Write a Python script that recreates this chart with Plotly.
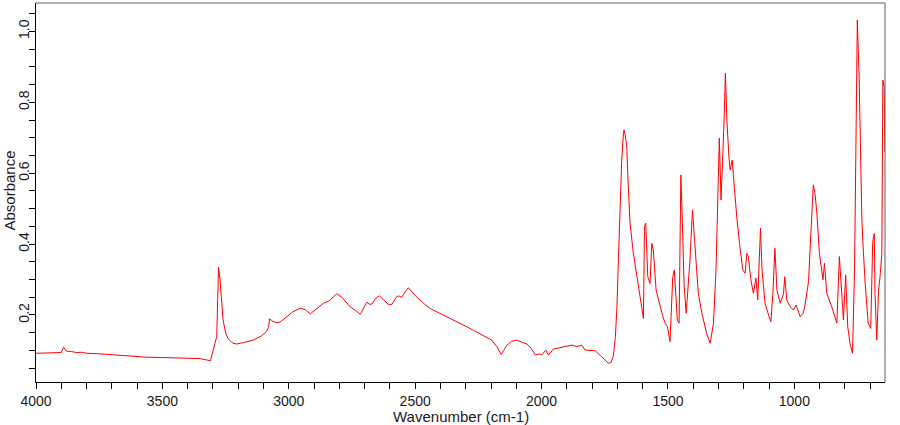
import plotly.graph_objects as go

wavenumber = [4000, 3950, 3900, 3891, 3880, 3860, 3840, 3820, 3800, 3760, 3720, 3680, 3640, 3600,
              3564, 3500, 3450, 3406, 3350, 3310, 3300, 3290, 3285, 3278, 3272, 3267, 3260, 3250,
              3241, 3225, 3208, 3180, 3142, 3110, 3089, 3080, 3076, 3065, 3050, 3034, 3010, 2984,
              2955, 2935, 2915, 2890, 2863, 2840, 2810, 2790, 2757, 2735, 2717, 2700, 2691, 2680,
              2671, 2655, 2641, 2625, 2606, 2592, 2575, 2566, 2553, 2540, 2527, 2500, 2467, 2440,
              2414, 2375, 2349, 2320, 2296, 2270, 2243, 2220, 2197, 2177, 2160, 2150, 2137, 2118,
              2098, 2080, 2058, 2040, 2025, 2010, 1999, 1983, 1973, 1953, 1930, 1900, 1880, 1861,
              1841, 1828, 1810, 1788, 1762, 1745, 1736, 1725, 1716, 1708, 1702, 1696, 1689, 1683,
              1676, 1674, 1670, 1663, 1657, 1650, 1637, 1617, 1604, 1597, 1593, 1588, 1580, 1571,
              1564, 1558, 1547, 1531, 1520, 1511, 1502, 1492, 1481, 1475, 1469, 1463, 1456, 1449,
              1443, 1436, 1428, 1419, 1413, 1403, 1397, 1389, 1380, 1366, 1347, 1333, 1320, 1310,
              1303, 1297, 1290, 1283, 1278, 1273, 1267, 1259, 1254, 1246, 1238, 1228, 1217, 1204,
              1195, 1188, 1182, 1172, 1162, 1152, 1145, 1134, 1128, 1116, 1100, 1093, 1085, 1077,
              1069, 1056, 1043, 1038, 1030, 1015, 1004, 993, 977, 965, 958, 944, 934, 925, 918,
              911, 901, 887, 881, 872, 852, 832, 822, 814, 806, 797, 789, 780, 770, 762, 757, 751,
              744, 740, 733, 728, 720, 708, 698, 690, 684, 681, 674, 667, 661, 654, 650, 645, 642]

absorbance = [0.092, 0.093, 0.094, 0.109, 0.098, 0.097, 0.094, 0.095, 0.092, 0.091, 0.089, 0.088, 0.086, 0.084,
              0.081, 0.080, 0.079, 0.078, 0.077, 0.071, 0.101, 0.130, 0.140, 0.335, 0.300, 0.252, 0.186, 0.150,
              0.134, 0.122, 0.118, 0.122, 0.129, 0.140, 0.153, 0.165, 0.189, 0.183, 0.178, 0.180, 0.195, 0.209,
              0.219, 0.215, 0.203, 0.218, 0.233, 0.240, 0.260, 0.250, 0.223, 0.212, 0.202, 0.225, 0.236, 0.230,
              0.231, 0.248, 0.254, 0.243, 0.230, 0.230, 0.250, 0.254, 0.250, 0.265, 0.277, 0.255, 0.233, 0.218,
              0.209, 0.195, 0.186, 0.177, 0.167, 0.157, 0.146, 0.137, 0.129, 0.111, 0.089, 0.100, 0.115, 0.126,
              0.129, 0.124, 0.118, 0.105, 0.087, 0.090, 0.088, 0.101, 0.087, 0.104, 0.108, 0.113, 0.115, 0.111,
              0.115, 0.101, 0.100, 0.099, 0.082, 0.070, 0.064, 0.066, 0.085, 0.140, 0.220, 0.360, 0.515, 0.637,
              0.715, 0.722, 0.710, 0.675, 0.562, 0.459, 0.374, 0.280, 0.214, 0.190, 0.449, 0.459, 0.308, 0.289,
              0.402, 0.383, 0.270, 0.223, 0.195, 0.177, 0.167, 0.125, 0.308, 0.327, 0.242, 0.186, 0.177, 0.595,
              0.459, 0.280, 0.205, 0.280, 0.355, 0.496, 0.440, 0.355, 0.261, 0.205, 0.148, 0.120, 0.177, 0.327,
              0.520, 0.699, 0.524, 0.637, 0.750, 0.882, 0.750, 0.647, 0.609, 0.637, 0.562, 0.477, 0.402, 0.327,
              0.318, 0.374, 0.365, 0.299, 0.261, 0.304, 0.242, 0.445, 0.327, 0.233, 0.195, 0.181, 0.261, 0.388,
              0.270, 0.233, 0.260, 0.308, 0.242, 0.222, 0.214, 0.228, 0.195, 0.205, 0.228, 0.294, 0.440, 0.567, 0.540,
              0.487, 0.374, 0.299, 0.346, 0.261, 0.223, 0.177, 0.365, 0.261, 0.186, 0.313, 0.167, 0.120, 0.092, 0.327, 0.764, 1.032,
              0.877, 0.675, 0.468, 0.393, 0.289, 0.177, 0.162, 0.407, 0.430, 0.261, 0.129, 0.270, 0.308, 0.374, 0.863, 0.844, 0.660]

x_tick_values = list(range(4000, 600, -100))
x_tick_labels = [str(v) if v % 500 == 0 else "" for v in x_tick_values]
y_tick_values = [round(0.05 * i, 2) for i in range(1, 22)]
y_tick_labels = ["%.1f" % v if abs(v * 10 - round(v * 10)) < 1e-9 and round(v * 10) % 2 == 0 else "" for v in y_tick_values]

FONT = "Liberation Sans, Arial, sans-serif"

fig = go.Figure()
fig.add_trace(go.Scatter(x=wavenumber, y=absorbance, mode="lines",
                         line=dict(color="#FF0000", width=1), showlegend=False))

fig.update_layout(
    width=900, height=425,
    margin=dict(l=36, r=15, t=3, b=43),
    paper_bgcolor="white", plot_bgcolor="white",
    font=dict(family=FONT, size=14, color="#1a1a1a"),
    xaxis=dict(range=[4000, 641.5], tickvals=x_tick_values, ticktext=x_tick_labels,
               ticks="outside", ticklen=6, tickcolor="black", tickwidth=1,
               showline=True, linecolor="black", linewidth=1, showgrid=False, zeroline=False,
               tickfont=dict(family=FONT, size=14, color="#1a1a1a")),
    yaxis=dict(range=[0.011, 1.080], tickvals=y_tick_values, ticktext=y_tick_labels,
               ticks="outside", ticklen=6, tickcolor="black", tickwidth=1, tickangle=-90,
               ticklabelstandoff=-6,
               showline=True, linecolor="black", linewidth=1, showgrid=False, zeroline=False,
               tickfont=dict(family=FONT, size=14, color="#1a1a1a")),
    shapes=[
        dict(type="line", xref="paper", yref="paper", x0=0, x1=1, y0=1, y1=1,
             line=dict(color="#606060", width=1)),
        dict(type="line", xref="paper", yref="paper", x0=1, x1=1, y0=0, y1=1,
             line=dict(color="#606060", width=1)),
    ],
    annotations=[
        dict(text="Wavenumber (cm-1)", xref="paper", yref="paper", x=0.5, y=-34 / 379,
             xanchor="center", yanchor="middle", showarrow=False,
             font=dict(family=FONT, size=15, color="#1a1a1a")),
        dict(text="Absorbance", xref="paper", yref="paper", x=-27 / 849, y=(382 - 190.5) / 379,
             xanchor="center", yanchor="middle", textangle=-90, showarrow=False,
             font=dict(family=FONT, size=15, color="#1a1a1a")),
    ],
)

fig.write_html("out.html")
